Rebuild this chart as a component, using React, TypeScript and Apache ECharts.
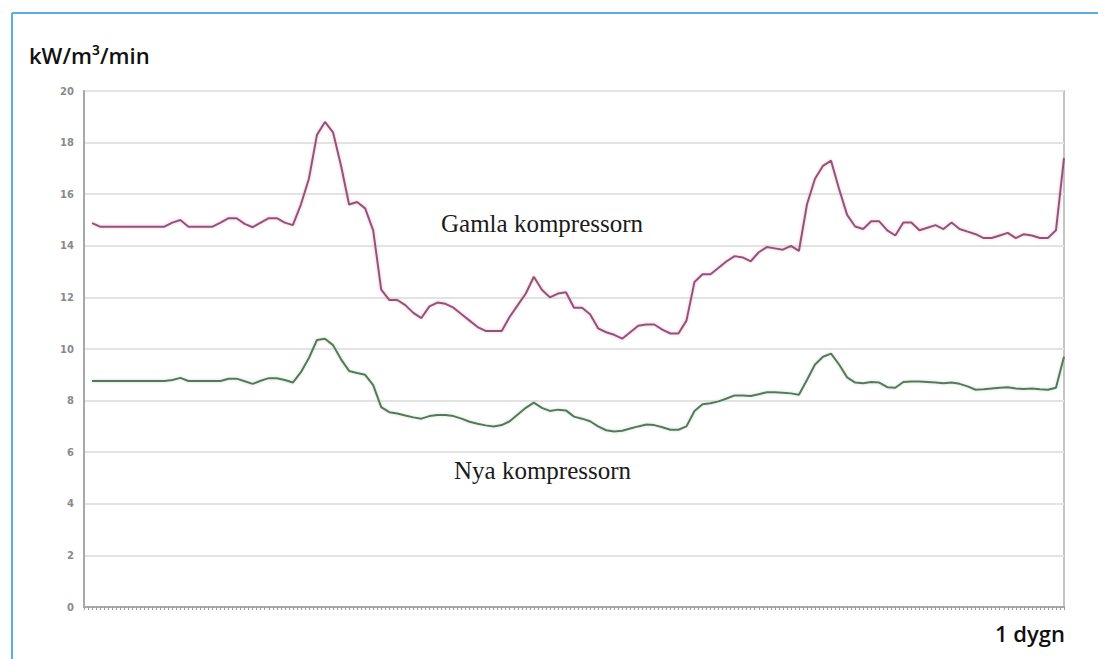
import React, { useEffect, useRef } from "react";
import * as echarts from "echarts";

// Time slots across one day (index 0 is the left edge of the plot, no reading there)
const categories: string[] = Array.from({ length: 123 }, (_, i) => String(i));
// Fine tick marks along the bottom axis
const tickSlots: string[] = Array.from({ length: 245 }, (_, i) => String(i));

const yTicks = [0, 2, 4, 6, 8, 10, 12, 14, 16, 18, 20];

// Gamla kompressorn (kW/m3/min)
const gamla: (number | null)[] = [
  null,
  14.88, 14.74, 14.74, 14.74, 14.74, 14.74, 14.74, 14.74, 14.74, 14.74,
  14.9, 15.0, 14.74, 14.74, 14.74, 14.74, 14.9, 15.07, 15.07, 14.85,
  14.72, 14.9, 15.07, 15.07, 14.9, 14.8, 15.6, 16.6, 18.3, 18.8,
  18.4, 17.1, 15.6, 15.7, 15.45, 14.6, 12.3, 11.9, 11.9, 11.7,
  11.4, 11.2, 11.65, 11.8, 11.75, 11.6, 11.35, 11.1, 10.85, 10.7,
  10.7, 10.7, 11.25, 11.7, 12.15, 12.8, 12.3, 12.0, 12.15, 12.2,
  11.6, 11.6, 11.35, 10.8, 10.65, 10.55, 10.4, 10.65, 10.9, 10.95,
  10.95, 10.75, 10.6, 10.6, 11.1, 12.6, 12.9, 12.9, 13.15, 13.4,
  13.6, 13.55, 13.4, 13.75, 13.95, 13.9, 13.85, 14.0, 13.8, 15.6,
  16.6, 17.1, 17.3, 16.2, 15.2, 14.75, 14.65, 14.95, 14.95, 14.6,
  14.4, 14.9, 14.9, 14.6, 14.7, 14.8, 14.65, 14.9, 14.65, 14.55,
  14.45, 14.3, 14.3, 14.4, 14.5, 14.3, 14.45, 14.4, 14.3, 14.3,
  14.6, 17.4,
];

// Nya kompressorn (kW/m3/min)
const nya: (number | null)[] = [
  null,
  8.76, 8.76, 8.76, 8.76, 8.76, 8.76, 8.76, 8.76, 8.76, 8.76,
  8.8, 8.88, 8.76, 8.76, 8.76, 8.76, 8.76, 8.85, 8.85, 8.75,
  8.65, 8.77, 8.87, 8.87, 8.8, 8.7, 9.1, 9.65, 10.35, 10.4,
  10.15, 9.6, 9.15, 9.07, 9.0, 8.6, 7.75, 7.55, 7.5, 7.42,
  7.35, 7.3, 7.4, 7.44, 7.44, 7.4, 7.3, 7.18, 7.1, 7.04,
  7.0, 7.05, 7.2, 7.46, 7.72, 7.92, 7.72, 7.6, 7.65, 7.62,
  7.38, 7.3, 7.2, 7.0, 6.85, 6.8, 6.83, 6.92, 7.0, 7.07,
  7.05, 6.97, 6.87, 6.87, 7.0, 7.6, 7.86, 7.9, 7.97, 8.08,
  8.2, 8.2, 8.18, 8.25, 8.32, 8.32, 8.3, 8.28, 8.23, 8.8,
  9.4, 9.7, 9.82, 9.4, 8.9, 8.7, 8.67, 8.72, 8.7, 8.52,
  8.5, 8.72, 8.74, 8.74, 8.72, 8.7, 8.67, 8.7, 8.65, 8.55,
  8.42, 8.44, 8.47, 8.5, 8.52, 8.47, 8.45, 8.47, 8.44, 8.42,
  8.5, 9.7,
];

const seriesNames = ["Gamla kompressorn", "Nya kompressorn"];
const unitLabel = "kW/m³/min";
const xLabel = "1 dygn";

export default function App() {
  const ref = useRef<HTMLDivElement>(null);

  useEffect(() => {
    document.body.style.margin = "0";
    if (!ref.current) return;
    const chart = echarts.init(ref.current, undefined, { renderer: "svg" });
    chart.setOption({
      animation: false,
      backgroundColor: "#ffffff",
      grid: {
        left: 84,
        right: 34,
        top: 91,
        bottom: 52,
        show: true,
        borderColor: "#c4c4c4",
        borderWidth: 2,
        backgroundColor: "transparent",
      },
      xAxis: [
        {
          type: "category",
          data: categories,
          boundaryGap: false,
          axisLine: { show: true, lineStyle: { color: "#a8a8a8", width: 2 } },
          axisTick: { show: false },
          axisLabel: { show: false },
          splitLine: { show: false },
        },
        {
          type: "category",
          data: tickSlots,
          boundaryGap: false,
          position: "bottom",
          axisLine: { show: false },
          axisTick: {
            show: true,
            interval: 0,
            length: 3,
            lineStyle: { color: "#9a9a9a", width: 1 },
          },
          axisLabel: { show: false },
          splitLine: { show: false },
        },
      ],
      yAxis: {
        type: "value",
        min: yTicks[0],
        max: yTicks[yTicks.length - 1],
        interval: 2,
        axisLine: { show: true, lineStyle: { color: "#a8a8a8", width: 2 } },
        axisTick: { show: false },
        axisLabel: {
          color: "#8a8a8a",
          fontSize: 10,
          fontFamily: "DejaVu Sans",
          fontWeight: "bold",
          margin: 10,
        },
        splitLine: { show: true, lineStyle: { color: "#e3e3e3", width: 2 } },
      },
      series: [
        {
          name: seriesNames[0],
          type: "line",
          data: gamla,
          xAxisIndex: 0,
          showSymbol: false,
          symbol: "none",
          connectNulls: false,
          lineStyle: {
            color: "#8f5673",
            width: 2,
            shadowColor: "rgba(240,150,200,0.7)",
            shadowBlur: 3,
          },
        },
        {
          name: seriesNames[1],
          type: "line",
          data: nya,
          xAxisIndex: 0,
          showSymbol: false,
          symbol: "none",
          connectNulls: false,
          lineStyle: {
            color: "#587560",
            width: 2,
            shadowColor: "rgba(170,215,170,0.7)",
            shadowBlur: 3,
          },
        },
      ],
      graphic: [
        {
          type: "line",
          shape: { x1: 12, y1: 13, x2: 1098, y2: 13 },
          style: { stroke: "#5aaee0", lineWidth: 2 },
          silent: true,
        },
        {
          type: "line",
          shape: { x1: 12, y1: 13, x2: 12, y2: 659 },
          style: { stroke: "#5aaee0", lineWidth: 2 },
          silent: true,
        },
        {
          type: "text",
          x: 29,
          y: 54.5,
          style: {
            text: unitLabel,
            font: "600 22px 'Open Sans'",
            fill: "#111111",
            align: "left",
            verticalAlign: "middle",
          },
        },
        {
          type: "text",
          x: 1065,
          y: 632.5,
          style: {
            text: xLabel,
            font: "600 22px 'Open Sans'",
            fill: "#111111",
            align: "right",
            verticalAlign: "middle",
          },
        },
        {
          type: "text",
          x: 441,
          y: 223.5,
          style: {
            text: seriesNames[0],
            font: "25px 'Liberation Serif'",
            fill: "#1a1a1a",
            align: "left",
            verticalAlign: "middle",
          },
        },
        {
          type: "text",
          x: 454,
          y: 470.5,
          style: {
            text: seriesNames[1],
            font: "25px 'Liberation Serif'",
            fill: "#1a1a1a",
            align: "left",
            verticalAlign: "middle",
          },
        },
      ],
    });
    return () => chart.dispose();
  }, []);

  return (
    <div
      ref={ref}
      style={{ position: "absolute", left: 0, top: 0, width: 1098, height: 659 }}
    />
  );
}
